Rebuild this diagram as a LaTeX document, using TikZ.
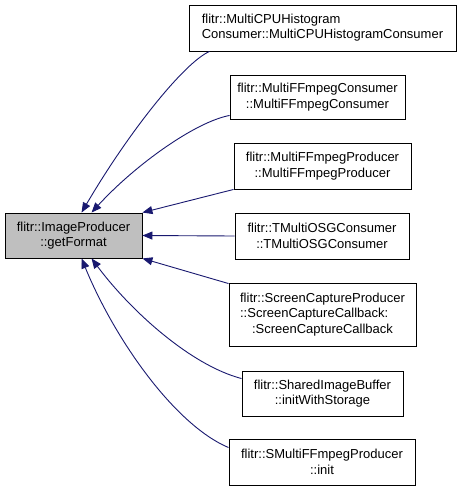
\documentclass[tikz,border=0pt]{standalone}
\usepackage{fontspec}
\setmainfont{Liberation Sans}
\usetikzlibrary{arrows.meta}
\definecolor{edgeblue}{HTML}{191970}
\definecolor{nodegray}{HTML}{BFBFBF}
\begin{document}
\begin{tikzpicture}[x=1pt,y=-1pt,
  box/.style={draw=black, line width=0.9pt, fill=white, inner sep=0pt, align=center,
    font=\fontsize{13}{15.5}\selectfont},
  edge/.style={draw=edgeblue, line width=0.9pt, -{Triangle[length=10pt,width=8pt]}}]
\useasboundingbox[fill=white] (0,0) rectangle (461,491);
\node[box, fill=nodegray, minimum width=137pt, minimum height=45pt] (L) at (73.5,235.5) {flitr::ImageProducer\\::getFormat};
\node[box, minimum width=267pt, minimum height=46pt] (B1) at (322.5,28) {\begin{tabular}{@{}l@{}}flitr::MultiCPUHistogram\\Consumer::MultiCPUHistogramConsumer\end{tabular}};
\node[box, minimum width=175pt, minimum height=44pt] (B2) at (317.5,97) {flitr::MultiFFmpegConsumer\\::MultiFFmpegConsumer};
\node[box, minimum width=177pt, minimum height=46pt] (B3) at (322.5,166) {flitr::MultiFFmpegProducer\\::MultiFFmpegProducer};
\node[box, minimum width=174pt, minimum height=46pt] (B4) at (322,236) {flitr::TMultiOSGConsumer\\::TMultiOSGConsumer};
\node[box, minimum width=187pt, minimum height=63pt] (B5) at (322.5,314.5) {\begin{tabular}{@{}l@{}}flitr::ScreenCaptureProducer\\::ScreenCaptureCallback:\\\multicolumn{1}{@{}c@{}}{:ScreenCaptureCallback}\end{tabular}};
\node[box, minimum width=161pt, minimum height=45pt] (B6) at (322.5,393.5) {flitr::SharedImageBuffer\\::initWithStorage};
\node[box, minimum width=186pt, minimum height=46pt] (B7) at (322,462) {flitr::SMultiFFmpegProducer\\::init};
\draw[edge] ([xshift=21pt]B1.south west) .. controls (185,62) and (130,130) .. ([xshift=77pt]L.north west);
\draw[edge] ([yshift=4pt]B2.south west) .. controls (195,122) and (135,165) .. ([xshift=87pt]L.north west);
\draw[edge] (B3.south west) -- (L.north east);
\draw[edge] (B4.west) -- (L.east);
\draw[edge] ([yshift=-1pt]B5.north west) -- (L.south east);
\draw[edge] ([yshift=-8pt]B6.north west) .. controls (190,365) and (130,310) .. ([xshift=87pt]L.south west);
\draw[edge] ([yshift=-9pt]B7.north west) .. controls (175,425) and (115,340) .. ([xshift=77pt]L.south west);
\end{tikzpicture}
\end{document}
